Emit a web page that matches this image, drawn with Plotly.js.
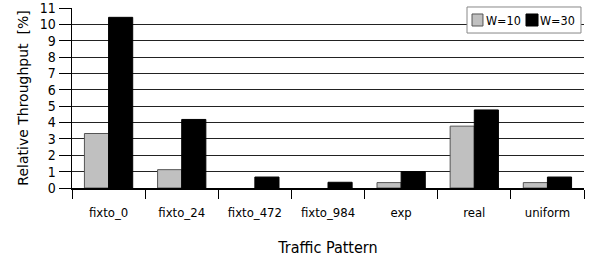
<!DOCTYPE html>
<html>
<head>
<meta charset="utf-8">
<script src="https://cdn.plot.ly/plotly-3.0.1.min.js"></script>
<style>html,body{margin:0;padding:0;background:#fff;}#chart{width:590px;height:264px;}</style>
</head>
<body>
<div id="chart"></div>
<script>
const categories = ["fixto_0", "fixto_24", "fixto_472", "fixto_984", "exp", "real", "uniform"];
const w10 = [3.33, 1.12, 0.0, 0.0, 0.33, 3.78, 0.33];
const w30 = [10.43, 4.19, 0.67, 0.35, 1.0, 4.77, 0.67];
const seriesNames = ["W=10", "W=30"];
const seriesColors = ["#c0c0c0", "#000000"];
const yTicks = [0,1,2,3,4,5,6,7,8,9,10,11];

const traces = [
  {type: "bar", name: seriesNames[0], x: categories, y: w10, showlegend: false,
   marker: {color: seriesColors[0], line: {color: "#555", width: w10.map(v => v > 0 ? 1 : 0)}}},
  {type: "bar", name: seriesNames[1], x: categories, y: w30, showlegend: false,
   marker: {color: seriesColors[1], line: {color: "#000", width: w30.map(v => v > 0 ? 1 : 0)}}}
];

// Legend drawn as a compact box (paper coordinates)
const legendShapes = [
  {type: "rect", xref: "paper", yref: "paper", x0: 0.7715, x1: 0.9941, y0: 0.861, y1: 1.0056,
   line: {color: "#888", width: 1}, fillcolor: "#fff", layer: "above"},
  {type: "rect", xref: "paper", yref: "paper", x0: 0.7813, x1: 0.8027, y0: 0.9, y1: 0.9667,
   line: {color: "#555", width: 1}, fillcolor: seriesColors[0], layer: "above"},
  {type: "rect", xref: "paper", yref: "paper", x0: 0.8867, x1: 0.9102, y0: 0.9, y1: 0.9667,
   line: {color: "#000", width: 1}, fillcolor: seriesColors[1], layer: "above"}
];
const legendFont = {family: "DejaVu Sans Condensed", size: 12.5, color: "#000"};
const legendAnnotations = [
  {xref: "paper", yref: "paper", x: 0.8066, y: 0.9333, xanchor: "left", yanchor: "middle",
   text: seriesNames[0], showarrow: false, borderpad: 0, font: legendFont},
  {xref: "paper", yref: "paper", x: 0.9121, y: 0.9333, xanchor: "left", yanchor: "middle",
   text: seriesNames[1], showarrow: false, borderpad: 0, font: legendFont}
];

const layout = {
  width: 590, height: 264,
  margin: {l: 72, r: 6, t: 8, b: 76},
  paper_bgcolor: "#fff", plot_bgcolor: "#fff",
  barmode: "group", bargap: 0.34, bargroupgap: 0,
  font: {family: "DejaVu Sans", color: "#000", size: 13},
  showlegend: false,
  shapes: legendShapes,
  annotations: legendAnnotations,
  xaxis: {
    type: "category", tickson: "boundaries", ticks: "outside", ticklen: 9,
    tickcolor: "#000", showline: true, linecolor: "#000", linewidth: 1.5,
    ticklabelstandoff: 12,
    tickfont: {family: "DejaVu Sans Condensed", size: 13},
    title: {text: "Traffic Pattern", font: {family: "DejaVu Sans Condensed", size: 16}, standoff: 22},
    showgrid: false, zeroline: false, fixedrange: true
  },
  yaxis: {
    range: [0, 11], tickvals: yTicks, ticks: "outside", ticklen: 12, tickcolor: "#000",
    showline: true, linecolor: "#000", linewidth: 1.5, ticklabeloverflow: "allow",
    showgrid: true, gridcolor: "#222", gridwidth: 1, zeroline: false,
    tickfont: {family: "DejaVu Sans Condensed", size: 14},
    title: {text: "Relative Throughput\u00a0\u00a0[%]", font: {family: "DejaVu Sans", size: 14}, standoff: 8},
    fixedrange: true
  }
};

Plotly.newPlot("chart", traces, layout, {displayModeBar: false, staticPlot: true});
</script>
</body>
</html>
